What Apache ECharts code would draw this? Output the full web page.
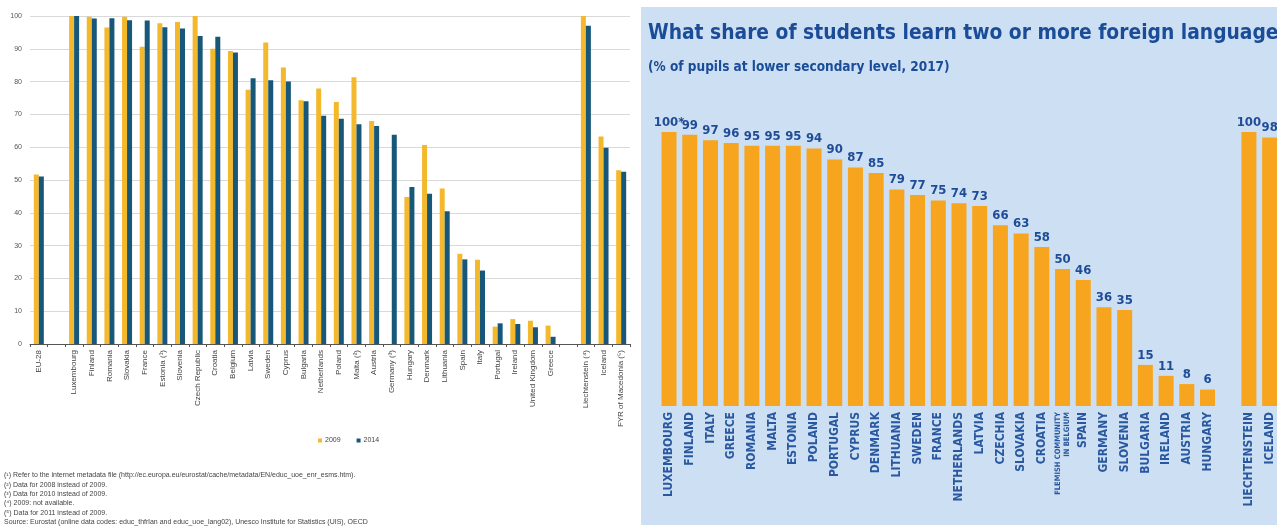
<!DOCTYPE html>
<html>
<head>
<meta charset="utf-8">
<script src="https://cdn.jsdelivr.net/npm/echarts@6/dist/echarts.min.js"></script>
<style>
html,body{margin:0;padding:0;background:#fff;}
#c{width:1287px;height:531px;}
</style>
</head>
<body>
<div id="c"></div>
<script>
// ---- Left chart (Eurostat) ----
const leftCategories = ['EU-28','','Luxembourg','Finland','Romania','Slovakia','France','Estonia (¹)','Slovenia','Czech Republic','Croatia','Belgium','Latvia','Sweden','Cyprus','Bulgaria','Netherlands','Poland','Malta (²)','Austria','Germany (³)','Hungary','Denmark','Lithuania','Spain','Italy','Portugal','Ireland','United Kingdom','Greece','','Liechtenstein (⁴)','Iceland','FYR of Macedonia (⁵)'];
const values2009 = [51.7,null,100,99.8,96.5,99.8,90.6,97.8,98.2,100,90.0,89.3,77.5,91.9,84.3,74.3,77.9,73.8,81.3,68.0,null,44.8,60.7,47.4,27.5,25.7,5.3,7.6,7.1,5.6,null,100,63.3,53.0];
const values2014 = [51.1,null,100,99.2,99.3,98.7,98.6,96.6,96.2,93.9,93.7,88.9,81.0,80.4,80.0,74.0,69.6,68.7,67.0,66.5,63.8,47.9,45.8,40.5,25.8,22.4,6.3,6.1,5.1,2.2,null,97.0,59.8,52.5];
const leftYTicks = [0,10,20,30,40,50,60,70,80,90,100];
const footnotes = [
  '(¹) Refer to the internet metadata file (http://ec.europa.eu/eurostat/cache/metadata/EN/educ_uoe_enr_esms.htm).',
  '(²) Data for 2008 instead of 2009.',
  '(³) Data for 2010 instead of 2009.',
  '(⁴) 2009: not available.',
  '(⁵) Data for 2011 instead of 2009.',
  'Source: Eurostat (online data codes: educ_thfrlan and educ_uoe_lang02), Unesco Institute for Statistics (UIS), OECD'
];

// ---- Right chart (2017) ----
const rightCategories = ['LUXEMBOURG','FINLAND','ITALY','GREECE','ROMANIA','MALTA','ESTONIA','POLAND','PORTUGAL','CYPRUS','DENMARK','LITHUANIA','SWEDEN','FRANCE','NETHERLANDS','LATVIA','CZECHIA','SLOVAKIA','CROATIA','FLEMISH COMMUNITY\nIN BELGIUM','SPAIN','GERMANY','SLOVENIA','BULGARIA','IRELAND','AUSTRIA','HUNGARY','','LIECHTENSTEIN','ICELAND'];
const values2017 = [100,99,97,96,95,95,95,94,90,87,85,79,77,75,74,73,66,63,58,50,46,36,35,15,11,8,6,null,100,98];
const valueNotes2017 = {0:'*'};
const rightTitle = 'What share of students learn two or more foreign language';
const rightSubtitle = '(% of pupils at lower secondary level, 2017)';

const COND = '"DejaVu Sans Condensed", "DejaVu Sans", sans-serif';
const ARIAL = '"Liberation Sans", Arial, sans-serif';

const chart = echarts.init(document.getElementById('c'), null, {renderer:'canvas'});

const footGraphics = footnotes.map((t,i)=>({
  type:'text', left:4, top:472 + i*9.3, z:10,
  style:{text:t, font:'7px '+ARIAL, fill:'#444'}
}));

chart.setOption({
  animation:false,
  backgroundColor:'#ffffff',
  title:[
    {text:rightTitle, left:643, top:18, textStyle:{fontFamily:COND, fontWeight:'bold', fontSize:20.8, color:'#1b4c98'}},
    {text:rightSubtitle, left:643, top:55, textStyle:{fontFamily:COND, fontWeight:'bold', fontSize:13.5, color:'#1b4c98'}}
  ],
  legend:{
    data:['2009','2014'], left:313, top:432, itemWidth:4, itemHeight:4, itemGap:16,
    icon:'rect', textStyle:{fontSize:7, fontFamily:ARIAL, color:'#444', padding:[0,0,0,-2]}
  },
  graphic:[
    {type:'rect', z:-10, shape:{x:641, y:7, width:636, height:518}, style:{fill:'#cddff2'}},
    {type:'rect', z:100, shape:{x:1277, y:0, width:10, height:531}, style:{fill:'#ffffff'}},
    ...footGraphics
  ],
  grid:[
    {left:30, right:657, top:16, bottom:187},
    {left:658.7, right:7, top:132, bottom:125}
  ],
  xAxis:[
    {type:'category', gridIndex:0, data:leftCategories,
     axisLine:{lineStyle:{color:'#555', width:1}},
     axisTick:{show:true, length:3, lineStyle:{color:'#555'}},
     axisLabel:{rotate:90, interval:0, fontSize:8, fontFamily:ARIAL, color:'#444', margin:6}},
    {type:'category', gridIndex:1, data:rightCategories,
     axisLine:{show:false}, axisTick:{show:false},
     axisLabel:{rotate:90, interval:0, margin:6, fontSize:12, fontWeight:'bold', fontFamily:COND, color:'#2a58a0',
       formatter:function(v){
         if(v.indexOf('\n')>=0){ return '{s|'+v.split('\n').join('}\n{s|')+'}'; }
         return v;
       },
       rich:{s:{fontSize:7.5, fontWeight:'bold', fontFamily:COND, color:'#2a58a0', lineHeight:9}}
     }}
  ],
  yAxis:[
    {type:'value', gridIndex:0, min:0, max:100, interval:10,
     axisLine:{show:false}, axisTick:{show:false},
     splitLine:{lineStyle:{color:'#d9d9d9', width:1}},
     axisLabel:{fontSize:7, fontFamily:ARIAL, color:'#555', margin:8}},
    {type:'value', gridIndex:1, min:0, max:100, show:false, splitLine:{show:false}}
  ],
  series:[
    {name:'2009', type:'bar', xAxisIndex:0, yAxisIndex:0, data:values2009, barWidth:5, barGap:'0%', itemStyle:{color:'#f4b82c'}},
    {name:'2014', type:'bar', xAxisIndex:0, yAxisIndex:0, data:values2014, barWidth:5, barGap:'0%', itemStyle:{color:'#17577a'}},
    {name:'2017', type:'bar', xAxisIndex:1, yAxisIndex:1, data:values2017, barWidth:15, itemStyle:{color:'#f7a51e'},
     label:{show:true, position:'top', distance:3, fontFamily:COND, fontWeight:'bold', fontSize:13, color:'#1f4c96',
       formatter:function(p){ return p.value + (valueNotes2017[p.dataIndex]||''); }}}
  ]
});
</script>
</body>
</html>
